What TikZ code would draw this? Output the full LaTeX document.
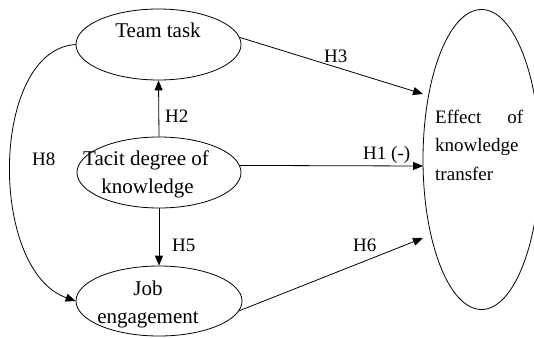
\documentclass[tikz,border=0pt]{standalone}
\usepackage{fontspec}
\setmainfont{Liberation Serif}
\usetikzlibrary{shapes.geometric,arrows.meta}
\tikzset{
  oval/.style={draw, ellipse, line width=0.8pt, inner sep=0pt},
  ntext/.style={anchor=base, inner sep=0pt, font=\fontsize{21}{27}\selectfont},
  etext/.style={anchor=base west, inner sep=0pt, font=\fontsize{19}{27}\selectfont},
  hlab/.style={anchor=base west, inner sep=0pt, font=\fontsize{19}{24}\selectfont},
  conn/.style={line width=0.8pt, -{Triangle[length=10pt,width=8pt]}},
}
\begin{document}
\begin{tikzpicture}[x=1pt,y=-1pt]
\useasboundingbox (0,0) rectangle (534,337);
\begin{scope}
\clip (0,0) rectangle (534,337);
\node[oval, minimum width=165pt, minimum height=71pt] (team) at (158.5,44.5) {};
\node[oval, minimum width=164pt, minimum height=71pt] (tacit) at (159,172.5) {};
\node[oval, minimum width=166pt, minimum height=70pt] (job) at (159,301) {};
\node[oval, minimum width=117pt, minimum height=300pt] (effect) at (481.5,159.5) {};
\end{scope}

\node[ntext] (teamtxt) at (158,37.7) {Team task};
\node[ntext] (tacittxtA) at (146,165.7) {Tacit degree of};
\node[ntext] (tacittxtB) at (147.5,193) {knowledge};
\node[ntext] (jobtxtA) at (148,295) {Job};
\node[ntext] (jobtxtB) at (148,323) {engagement};
\node[etext] (efftxtA) at (435,123) {\makebox[88pt][s]{Effect\hfill of}};
\node[etext] (efftxtB) at (435,151.5) {knowledge};
\node[etext] (efftxtC) at (435,180) {transfer};

\coordinate (e3) at (423,94);
\coordinate (e1) at (423,166);
\coordinate (e6) at (423,238);

\draw[conn] (tacit.north) -- (team.south);
\draw[conn] (tacit.south) -- (job.north);
\draw[conn] (team.5) -- (e3);
\draw[conn] (tacit.5) -- (e1);
\draw[conn] (job.-7) -- (e6);
\draw[conn] (team.west) .. controls (-10,50) and (-12,270) .. (job.west);

\node[hlab] (h2) at (165,122) {H2};
\node[hlab] (h8) at (32,165) {H8};
\node[hlab] (h5) at (172,251) {H5};
\node[hlab] (h3) at (324,62) {H3};
\node[hlab] (h1) at (363,159) {H1 (-)};
\node[hlab] (h6) at (353,251) {H6};
\end{tikzpicture}
\end{document}
